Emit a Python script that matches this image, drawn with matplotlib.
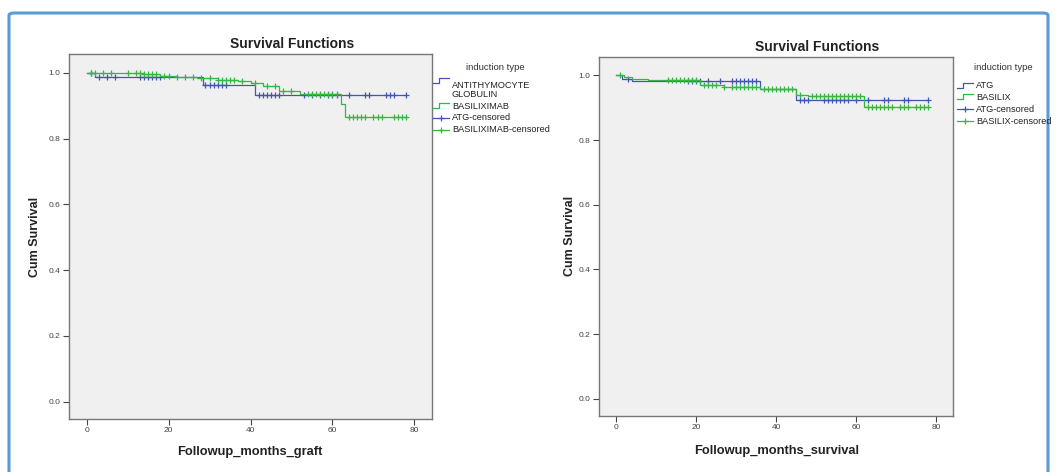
import numpy as np
import matplotlib
matplotlib.use('Agg')
import matplotlib.pyplot as plt
from matplotlib.lines import Line2D
from matplotlib.patches import FancyBboxPatch

plt.rcParams['font.family'] = ['Liberation Sans', 'DejaVu Sans']

# Graft survival (left panel)
graft_atg_times = [0, 2, 28.5, 41]
graft_atg_surv = [1.0, 0.988, 0.962, 0.933]
graft_atg_censored = [1, 3, 5, 7, 13, 14, 15, 16, 17, 18, 29, 30, 31, 32, 33, 34,
                      42, 43, 44, 45, 46, 47, 53, 55, 57, 59, 60, 61, 64, 68, 69,
                      73, 74, 75, 78]
graft_bas_times = [0, 14, 18, 22, 27, 32, 37, 40, 43, 47, 52, 62, 63]
graft_bas_surv = [1.0, 0.995, 0.99, 0.987, 0.983, 0.979, 0.975, 0.968, 0.96,
                  0.945, 0.935, 0.905, 0.865]
graft_bas_censored = [1, 2, 4, 6, 10, 12, 13, 14, 15, 16, 17, 19, 20, 22, 24, 26,
                      28, 30, 32, 33, 34, 35, 36, 38, 41, 44, 46, 48, 50, 54, 55,
                      56, 57, 58, 59, 60, 61, 64, 65, 66, 67, 68, 70, 71, 72, 75,
                      76, 77, 78]

# Patient survival (right panel)
surv_atg_times = [0, 1.5, 4, 36, 45]
surv_atg_surv = [1.0, 0.988, 0.982, 0.959, 0.924]
surv_atg_censored = [3, 18, 19, 20, 21, 23, 26, 29, 30, 31, 32, 33, 34, 35, 46, 47,
                     48, 52, 53, 54, 55, 56, 57, 58, 60, 63, 67, 68, 72, 73, 78]
surv_bas_times = [0, 2, 4, 8, 21, 27, 36, 45, 48, 62]
surv_bas_surv = [1.0, 0.995, 0.99, 0.985, 0.971, 0.964, 0.959, 0.941, 0.936, 0.903]
surv_bas_censored = [1, 13, 14, 15, 16, 17, 18, 19, 20, 22, 23, 24, 25, 27, 29, 30,
                     31, 32, 33, 34, 35, 37, 38, 39, 40, 41, 42, 43, 44, 46, 49, 50,
                     51, 52, 53, 54, 55, 56, 57, 58, 59, 60, 61, 63, 64, 65, 66, 67,
                     68, 69, 71, 72, 73, 75, 76, 77, 78]
end_time = 78

x_ticks = [0, 20, 40, 60, 80]
y_ticks = [0.0, 0.2, 0.4, 0.6, 0.8, 1.0]

left_legend = ['ANTITHYMOCYTE\nGLOBULIN', 'BASILIXIMAB', 'ATG-censored', 'BASILIXIMAB-censored']
right_legend = ['ATG', 'BASILIX', 'ATG-censored', 'BASILIX-censored']

BLUE = '#4156b4'
GREEN = '#33b845'
W, H = 1057, 472


def fx(px):
    return px / W


def fy(py):
    return 1 - py / H


def draw_curve(ax, times, surv, censored, color):
    t = list(times) + [end_time]
    s = list(surv) + [surv[-1]]
    ax.step(t, s, where='post', color=color, lw=0.9)
    idx = np.searchsorted(times, censored, side='right') - 1
    cy = np.array(surv)[idx]
    ax.plot(censored, cy, ls='none', marker='+', ms=5, mew=0.9, color=color)


def style_axes(ax):
    ax.set_facecolor('#f0f0f0')
    ax.set_xlim(-4.3, 84.3)
    ax.set_ylim(-0.053, 1.057)
    ax.set_xticks(x_ticks)
    ax.set_yticks(y_ticks)
    ax.set_yticklabels([f'{v:.1f}' for v in y_ticks])
    ax.tick_params(labelsize=6, length=4, width=0.8, colors='#444444', pad=2)
    for sp in ax.spines.values():
        sp.set_color('#777777')
        sp.set_linewidth(1.0)


def step_symbol(fig, x0, y, color):
    xs = [x0, x0 + 6, x0 + 6, x0 + 16]
    ys = [y + 2, y + 2, y - 3, y - 3]
    fig.add_artist(Line2D([fx(v) for v in xs], [fy(v) for v in ys],
                          transform=fig.transFigure, color=color, lw=0.9))


def censor_symbol(fig, x0, y, color):
    fig.add_artist(Line2D([fx(x0), fx(x0 + 16)], [fy(y), fy(y)],
                          transform=fig.transFigure, color=color, lw=0.9))
    fig.add_artist(Line2D([fx(x0 + 8)], [fy(y)], transform=fig.transFigure,
                          color=color, marker='+', ms=5, mew=0.9, ls='none'))


def draw_legend(fig, x0, title_x, title_y, rows, labels):
    fig.text(fx(title_x), fy(title_y), 'induction type', fontsize=6.8,
             color='#333333', ha='center', va='center')
    colors = [BLUE, GREEN, BLUE, GREEN]
    kinds = ['step', 'step', 'cens', 'cens']
    for lab, y, c, k in zip(labels, rows, colors, kinds):
        if k == 'step':
            step_symbol(fig, x0, y, c)
        else:
            censor_symbol(fig, x0, y, c)
        fig.text(fx(x0 + 19), fy(y), lab, fontsize=6.6, color='#222222',
                 ha='left', va='top' if '\n' in lab else 'center',
                 linespacing=1.05)


fig = plt.figure(figsize=(W / 100, H / 100), dpi=100)

# blue frame around the whole picture
frame = FancyBboxPatch((fx(9), fy(490)), fx(1048) - fx(9), fy(13) - fy(490),
                       boxstyle='round,pad=0,rounding_size=0.005',
                       transform=fig.transFigure, fill=False,
                       edgecolor='#5b9bd5', lw=2.2)
fig.add_artist(frame)

ax1 = fig.add_axes([fx(69), fy(419), fx(432) - fx(69), fy(54) - fy(419)])
draw_curve(ax1, graft_atg_times, graft_atg_surv, graft_atg_censored, BLUE)
draw_curve(ax1, graft_bas_times, graft_bas_surv, graft_bas_censored, GREEN)
style_axes(ax1)

ax2 = fig.add_axes([fx(599), fy(416), fx(953) - fx(599), fy(57) - fy(416)])
draw_curve(ax2, surv_atg_times, surv_atg_surv, surv_atg_censored, BLUE)
draw_curve(ax2, surv_bas_times, surv_bas_surv, surv_bas_censored, GREEN)
style_axes(ax2)

# titles and axis labels
fig.text(fx(292), fy(44), 'Survival Functions', fontsize=10, fontweight='bold',
         ha='center', va='center', color='#222222')
fig.text(fx(817), fy(47), 'Survival Functions', fontsize=10, fontweight='bold',
         ha='center', va='center', color='#222222')
fig.text(fx(35), fy(237), 'Cum Survival', fontsize=9, fontweight='bold',
         rotation=90, ha='center', va='center', color='#222222')
fig.text(fx(570), fy(236), 'Cum Survival', fontsize=9, fontweight='bold',
         rotation=90, ha='center', va='center', color='#222222')
fig.text(fx(250), fy(452), 'Followup_months_graft', fontsize=9.3, fontweight='bold',
         ha='center', va='center', color='#222222')
fig.text(fx(777), fy(451), 'Followup_months_survival', fontsize=9.3, fontweight='bold',
         ha='center', va='center', color='#222222')

# legends
draw_legend(fig, 433, 495, 67, [81, 106, 118, 130], left_legend)
draw_legend(fig, 957, 1003, 68, [86, 97, 109, 121], right_legend)

fig.savefig('out.png', dpi=100)
